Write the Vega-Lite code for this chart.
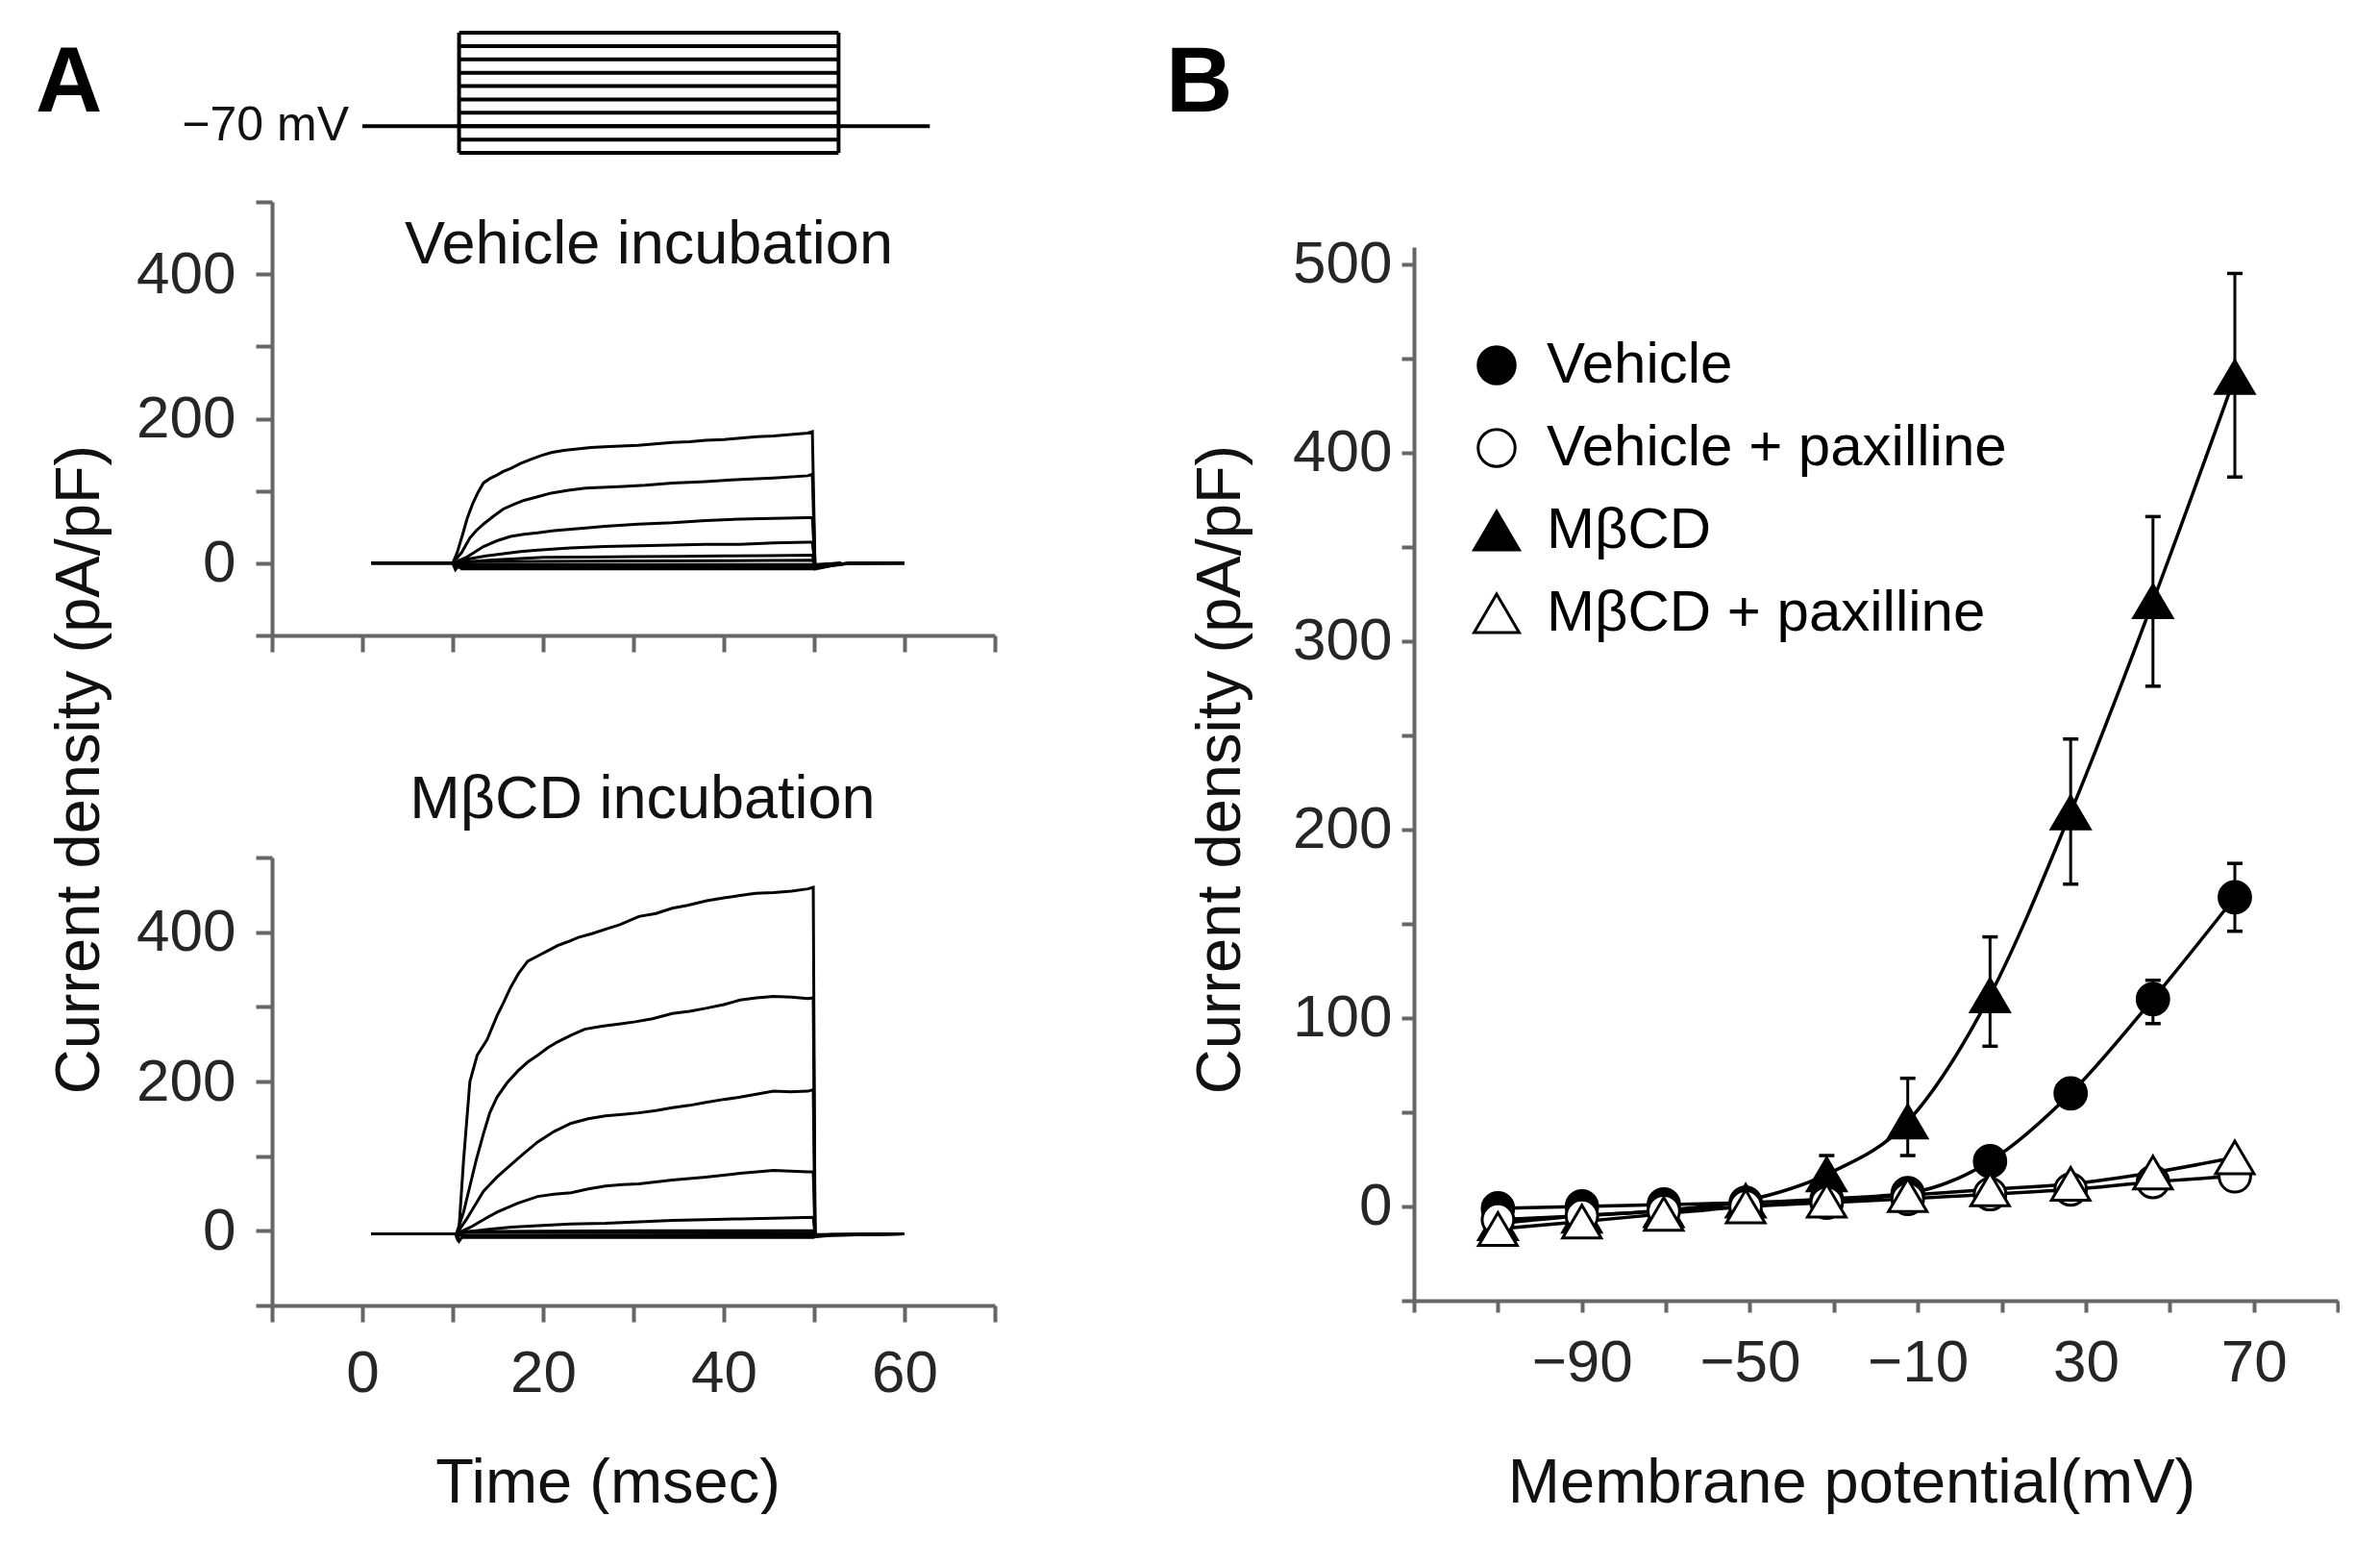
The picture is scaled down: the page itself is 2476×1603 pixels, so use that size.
{
  "$schema": "https://vega.github.io/schema/vega-lite/v6.json",
  "background": "white",
  "padding": {"left": 37, "top": 32, "right": 0, "bottom": 0},
  "autosize": {"type": "pad"},
  "config": {
    "view": {"stroke": null},
    "font": "Liberation Sans",
    "title": {"font": "Liberation Sans", "color": "black"},
    "axis": {
      "grid": false,
      "domainColor": "#666666",
      "domainWidth": 4,
      "tickColor": "#666666",
      "tickWidth": 4,
      "labelFont": "Liberation Sans",
      "labelFontSize": 62,
      "labelColor": "#262626",
      "labelOverlap": false,
      "labelBound": false,
      "labelFlush": false,
      "titleFont": "Liberation Sans",
      "titleFontSize": 65,
      "titleFontWeight": "normal",
      "titleColor": "#111111"
    }
  },
  "datasets": {
    "protocol_h": [
      {"segment": "holding", "label": "−70 mV", "t0": 0, "t1": 62.8, "v": -70},
      {"segment": "step", "t0": 10.7, "t1": 52.7, "v": 70},
      {"segment": "step", "t0": 10.7, "t1": 52.7, "v": 50},
      {"segment": "step", "t0": 10.7, "t1": 52.7, "v": 30},
      {"segment": "step", "t0": 10.7, "t1": 52.7, "v": 10},
      {"segment": "step", "t0": 10.7, "t1": 52.7, "v": -10},
      {"segment": "step", "t0": 10.7, "t1": 52.7, "v": -30},
      {"segment": "step", "t0": 10.7, "t1": 52.7, "v": -50},
      {"segment": "step", "t0": 10.7, "t1": 52.7, "v": -70},
      {"segment": "step", "t0": 10.7, "t1": 52.7, "v": -90},
      {"segment": "step", "t0": 10.7, "t1": 52.7, "v": -110}
    ],
    "protocol_v": [
      {"t": 10.7, "vlo": -110, "vhi": 70},
      {"t": 52.7, "vlo": -110, "vhi": 70}
    ],
    "vehicle_traces": [
      {"trace":"V1","t":1,"i":0},{"trace":"V1","t":10,"i":0},{"trace":"V1","t":10.5,"i":15},{"trace":"V1","t":11.1,"i":40},{"trace":"V1","t":11.6,"i":62},{"trace":"V1","t":12.2,"i":82},{"trace":"V1","t":12.8,"i":98},{"trace":"V1","t":13.4,"i":111},{"trace":"V1","t":14.1,"i":117},{"trace":"V1","t":14.9,"i":122},{"trace":"V1","t":15.6,"i":127},{"trace":"V1","t":16.4,"i":131},{"trace":"V1","t":17.5,"i":138},{"trace":"V1","t":18.7,"i":144},{"trace":"V1","t":19.8,"i":149},{"trace":"V1","t":20.9,"i":153},{"trace":"V1","t":22.3,"i":156},{"trace":"V1","t":23.8,"i":158},{"trace":"V1","t":25.3,"i":160},{"trace":"V1","t":26.8,"i":161},{"trace":"V1","t":28.6,"i":162},{"trace":"V1","t":30.5,"i":163},{"trace":"V1","t":32.4,"i":165},{"trace":"V1","t":34.3,"i":167},{"trace":"V1","t":36.2,"i":168},{"trace":"V1","t":38,"i":170},{"trace":"V1","t":40,"i":171},{"trace":"V1","t":41.8,"i":173},{"trace":"V1","t":43.7,"i":175},{"trace":"V1","t":45.5,"i":176},{"trace":"V1","t":47.4,"i":178},{"trace":"V1","t":49.3,"i":180},{"trace":"V1","t":49.8,"i":182},{"trace":"V1","t":50.1,"i":-8},{"trace":"V1","t":51,"i":-6},{"trace":"V1","t":52.5,"i":-2},{"trace":"V1","t":54,"i":0},{"trace":"V1","t":60,"i":0},
      {"trace":"V2","t":1,"i":0},{"trace":"V2","t":10,"i":0},{"trace":"V2","t":11,"i":15},{"trace":"V2","t":11.9,"i":35},{"trace":"V2","t":12.6,"i":45},{"trace":"V2","t":13.4,"i":54},{"trace":"V2","t":14.5,"i":65},{"trace":"V2","t":15.6,"i":75},{"trace":"V2","t":16.7,"i":81},{"trace":"V2","t":17.9,"i":87},{"trace":"V2","t":19.4,"i":92},{"trace":"V2","t":20.9,"i":97},{"trace":"V2","t":22.8,"i":101},{"trace":"V2","t":24.7,"i":104},{"trace":"V2","t":26.5,"i":105},{"trace":"V2","t":28.4,"i":106},{"trace":"V2","t":31.3,"i":108},{"trace":"V2","t":34.3,"i":111},{"trace":"V2","t":38,"i":113},{"trace":"V2","t":41.8,"i":116},{"trace":"V2","t":45.5,"i":118},{"trace":"V2","t":49.3,"i":121},{"trace":"V2","t":49.8,"i":123},{"trace":"V2","t":50.1,"i":-6},{"trace":"V2","t":51,"i":-5},{"trace":"V2","t":53,"i":-2},{"trace":"V2","t":54,"i":0},{"trace":"V2","t":60,"i":0},
      {"trace":"V3","t":1,"i":0},{"trace":"V3","t":10,"i":0},{"trace":"V3","t":11.5,"i":8},{"trace":"V3","t":12.4,"i":15},{"trace":"V3","t":13.4,"i":23},{"trace":"V3","t":14.9,"i":31},{"trace":"V3","t":16.4,"i":37},{"trace":"V3","t":17.9,"i":40},{"trace":"V3","t":19.4,"i":42},{"trace":"V3","t":21.2,"i":45},{"trace":"V3","t":23.1,"i":47},{"trace":"V3","t":25,"i":49},{"trace":"V3","t":26.8,"i":51},{"trace":"V3","t":30.5,"i":54},{"trace":"V3","t":34.3,"i":56},{"trace":"V3","t":38,"i":59},{"trace":"V3","t":41.8,"i":61},{"trace":"V3","t":45.5,"i":62},{"trace":"V3","t":49.3,"i":63},{"trace":"V3","t":49.8,"i":63},{"trace":"V3","t":50.1,"i":-5},{"trace":"V3","t":52,"i":-3},{"trace":"V3","t":54,"i":0},{"trace":"V3","t":60,"i":0},
      {"trace":"V4","t":1,"i":0},{"trace":"V4","t":10,"i":0},{"trace":"V4","t":11.9,"i":6},{"trace":"V4","t":13.7,"i":10},{"trace":"V4","t":15.6,"i":13},{"trace":"V4","t":17.5,"i":16},{"trace":"V4","t":19.4,"i":18},{"trace":"V4","t":23,"i":21},{"trace":"V4","t":26.8,"i":23},{"trace":"V4","t":30.5,"i":24},{"trace":"V4","t":34.3,"i":25},{"trace":"V4","t":38,"i":26},{"trace":"V4","t":41.8,"i":26},{"trace":"V4","t":45.5,"i":28},{"trace":"V4","t":49.3,"i":29},{"trace":"V4","t":49.8,"i":29},{"trace":"V4","t":50.1,"i":-4},{"trace":"V4","t":52,"i":-2},{"trace":"V4","t":54,"i":0},{"trace":"V4","t":60,"i":0},
      {"trace":"V5","t":1,"i":0},{"trace":"V5","t":10,"i":0},{"trace":"V5","t":12,"i":2},{"trace":"V5","t":14,"i":4},{"trace":"V5","t":17,"i":6},{"trace":"V5","t":20,"i":8},{"trace":"V5","t":25,"i":8.5},{"trace":"V5","t":30,"i":9},{"trace":"V5","t":35,"i":9.5},{"trace":"V5","t":40,"i":10},{"trace":"V5","t":45,"i":10.5},{"trace":"V5","t":49.8,"i":11},{"trace":"V5","t":50.1,"i":-3},{"trace":"V5","t":53,"i":-1},{"trace":"V5","t":60,"i":0},
      {"trace":"V6","t":10,"i":0},{"trace":"V6","t":10.3,"i":-9},{"trace":"V6","t":11,"i":2},{"trace":"V6","t":30,"i":3},{"trace":"V6","t":49.8,"i":4},{"trace":"V6","t":50.1,"i":-2},{"trace":"V6","t":53,"i":0},
      {"trace":"V7","t":10,"i":0},{"trace":"V7","t":11,"i":-2},{"trace":"V7","t":30,"i":-2},{"trace":"V7","t":49.8,"i":-2},{"trace":"V7","t":50.1,"i":-3},{"trace":"V7","t":53,"i":0},
      {"trace":"V8","t":10,"i":0},{"trace":"V8","t":11,"i":-5},{"trace":"V8","t":30,"i":-5},{"trace":"V8","t":49.8,"i":-5},{"trace":"V8","t":50.1,"i":-5},{"trace":"V8","t":53,"i":0},
      {"trace":"V9","t":10,"i":0},{"trace":"V9","t":11,"i":-8},{"trace":"V9","t":30,"i":-8},{"trace":"V9","t":49.8,"i":-8},{"trace":"V9","t":50.1,"i":-7},{"trace":"V9","t":53,"i":0}
    ],
    "mbcd_traces": [
      {"trace":"M1","t":1,"i":-4},{"trace":"M1","t":10.3,"i":-4},{"trace":"M1","t":10.6,"i":-14},{"trace":"M1","t":11.2,"i":95},{"trace":"M1","t":11.9,"i":200},{"trace":"M1","t":12.7,"i":235},{"trace":"M1","t":13.8,"i":256},{"trace":"M1","t":14.9,"i":288},{"trace":"M1","t":15.6,"i":305},{"trace":"M1","t":16.4,"i":326},{"trace":"M1","t":17.3,"i":345},{"trace":"M1","t":18.3,"i":361},{"trace":"M1","t":19.4,"i":368},{"trace":"M1","t":20.5,"i":375},{"trace":"M1","t":21.6,"i":382},{"trace":"M1","t":22.7,"i":387},{"trace":"M1","t":23.9,"i":393},{"trace":"M1","t":25.4,"i":398},{"trace":"M1","t":26.9,"i":404},{"trace":"M1","t":28.5,"i":410},{"trace":"M1","t":30.6,"i":421},{"trace":"M1","t":32.5,"i":425},{"trace":"M1","t":34.3,"i":432},{"trace":"M1","t":36,"i":436},{"trace":"M1","t":38.1,"i":442},{"trace":"M1","t":40,"i":446},{"trace":"M1","t":41.8,"i":449},{"trace":"M1","t":43.5,"i":452},{"trace":"M1","t":45.5,"i":453},{"trace":"M1","t":47.5,"i":455},{"trace":"M1","t":49.3,"i":458},{"trace":"M1","t":49.9,"i":460},{"trace":"M1","t":50.1,"i":-8},{"trace":"M1","t":52,"i":-6},{"trace":"M1","t":60,"i":-4},
      {"trace":"M2","t":1,"i":-4},{"trace":"M2","t":10.4,"i":-4},{"trace":"M2","t":11.2,"i":25},{"trace":"M2","t":11.9,"i":60},{"trace":"M2","t":12.6,"i":95},{"trace":"M2","t":13.4,"i":130},{"trace":"M2","t":14.1,"i":158},{"trace":"M2","t":14.9,"i":179},{"trace":"M2","t":16,"i":198},{"trace":"M2","t":17.2,"i":214},{"trace":"M2","t":18.3,"i":226},{"trace":"M2","t":19.4,"i":235},{"trace":"M2","t":20.5,"i":245},{"trace":"M2","t":21.6,"i":253},{"trace":"M2","t":23.1,"i":262},{"trace":"M2","t":24.6,"i":270},{"trace":"M2","t":26.5,"i":274},{"trace":"M2","t":28.4,"i":277},{"trace":"M2","t":30.2,"i":280},{"trace":"M2","t":32.1,"i":284},{"trace":"M2","t":34.3,"i":291},{"trace":"M2","t":36.2,"i":294},{"trace":"M2","t":38,"i":298},{"trace":"M2","t":40,"i":303},{"trace":"M2","t":41.8,"i":309},{"trace":"M2","t":43.6,"i":312},{"trace":"M2","t":45.5,"i":314},{"trace":"M2","t":47.5,"i":313},{"trace":"M2","t":49.3,"i":311},{"trace":"M2","t":49.9,"i":312},{"trace":"M2","t":50.1,"i":-7},{"trace":"M2","t":52,"i":-6},{"trace":"M2","t":60,"i":-4},
      {"trace":"M3","t":1,"i":-4},{"trace":"M3","t":10.4,"i":-4},{"trace":"M3","t":11.5,"i":15},{"trace":"M3","t":12.4,"i":33},{"trace":"M3","t":13.4,"i":53},{"trace":"M3","t":14.9,"i":72},{"trace":"M3","t":16.4,"i":88},{"trace":"M3","t":17.9,"i":104},{"trace":"M3","t":19.4,"i":119},{"trace":"M3","t":21.2,"i":133},{"trace":"M3","t":23.1,"i":144},{"trace":"M3","t":25,"i":150},{"trace":"M3","t":26.9,"i":154},{"trace":"M3","t":28.8,"i":156},{"trace":"M3","t":30.6,"i":158},{"trace":"M3","t":32.5,"i":161},{"trace":"M3","t":34.3,"i":165},{"trace":"M3","t":36.2,"i":168},{"trace":"M3","t":38,"i":172},{"trace":"M3","t":40,"i":176},{"trace":"M3","t":41.8,"i":179},{"trace":"M3","t":43.6,"i":183},{"trace":"M3","t":45.5,"i":187},{"trace":"M3","t":47.4,"i":186},{"trace":"M3","t":49.3,"i":187},{"trace":"M3","t":49.9,"i":189},{"trace":"M3","t":50.1,"i":-6},{"trace":"M3","t":52,"i":-5},{"trace":"M3","t":60,"i":-4},
      {"trace":"M4","t":1,"i":-4},{"trace":"M4","t":10.4,"i":-4},{"trace":"M4","t":12,"i":5},{"trace":"M4","t":13.4,"i":15},{"trace":"M4","t":14.9,"i":25},{"trace":"M4","t":17.2,"i":37},{"trace":"M4","t":19.4,"i":46},{"trace":"M4","t":21.2,"i":49},{"trace":"M4","t":23.1,"i":51},{"trace":"M4","t":25,"i":56},{"trace":"M4","t":26.9,"i":60},{"trace":"M4","t":28.8,"i":62},{"trace":"M4","t":30.6,"i":63},{"trace":"M4","t":34.3,"i":68},{"trace":"M4","t":38,"i":72},{"trace":"M4","t":41.8,"i":77},{"trace":"M4","t":45.5,"i":81},{"trace":"M4","t":47.4,"i":80},{"trace":"M4","t":49.3,"i":79},{"trace":"M4","t":49.9,"i":79},{"trace":"M4","t":50.1,"i":-6},{"trace":"M4","t":52,"i":-5},{"trace":"M4","t":60,"i":-4},
      {"trace":"M5","t":1,"i":-4},{"trace":"M5","t":10.4,"i":-4},{"trace":"M5","t":12,"i":-1},{"trace":"M5","t":14,"i":2},{"trace":"M5","t":16.5,"i":5},{"trace":"M5","t":19.4,"i":7},{"trace":"M5","t":23,"i":9},{"trace":"M5","t":26.9,"i":10},{"trace":"M5","t":30.6,"i":12},{"trace":"M5","t":34.3,"i":14},{"trace":"M5","t":38,"i":15},{"trace":"M5","t":41.8,"i":16},{"trace":"M5","t":45.5,"i":17},{"trace":"M5","t":49.9,"i":18},{"trace":"M5","t":50.1,"i":-5},{"trace":"M5","t":60,"i":-4},
      {"trace":"M6","t":10.4,"i":-4},{"trace":"M6","t":11,"i":-1},{"trace":"M6","t":30,"i":0},{"trace":"M6","t":49.9,"i":0},{"trace":"M6","t":50.1,"i":-4},
      {"trace":"M7","t":10.4,"i":-4},{"trace":"M7","t":11,"i":-6},{"trace":"M7","t":30,"i":-6},{"trace":"M7","t":49.9,"i":-6},{"trace":"M7","t":50.1,"i":-5},
      {"trace":"M8","t":10.4,"i":-4},{"trace":"M8","t":10.7,"i":-14},{"trace":"M8","t":11,"i":-9},{"trace":"M8","t":30,"i":-9},{"trace":"M8","t":49.9,"i":-9},{"trace":"M8","t":50.1,"i":-7},{"trace":"M8","t":52,"i":-5},
      {"trace":"M9","t":10.4,"i":-4},{"trace":"M9","t":11,"i":-2},{"trace":"M9","t":30,"i":-2.5},{"trace":"M9","t":49.9,"i":-3},{"trace":"M9","t":50.1,"i":-4}
    ],
    "iv": [
      {"series":"MβCD","v":-110,"i":-9},
      {"series":"MβCD","v":-90,"i":-5},
      {"series":"MβCD","v":-70.5,"i":-2},
      {"series":"MβCD","v":-51,"i":3},
      {"series":"MβCD","v":-31.7,"i":17,"lo":9,"hi":27},
      {"series":"MβCD","v":-12.4,"i":45,"lo":27,"hi":68},
      {"series":"MβCD","v":7.2,"i":112,"lo":85,"hi":143},
      {"series":"MβCD","v":26.4,"i":209,"lo":171,"hi":248},
      {"series":"MβCD","v":46,"i":321,"lo":276,"hi":366},
      {"series":"MβCD","v":65.5,"i":440,"lo":387,"hi":495},
      {"series":"Vehicle","v":-110,"i":-1},
      {"series":"Vehicle","v":-90,"i":0},
      {"series":"Vehicle","v":-70.5,"i":1},
      {"series":"Vehicle","v":-51,"i":2},
      {"series":"Vehicle","v":-31.7,"i":4},
      {"series":"Vehicle","v":-12.4,"i":7},
      {"series":"Vehicle","v":7.2,"i":24},
      {"series":"Vehicle","v":26.4,"i":60},
      {"series":"Vehicle","v":46,"i":110,"lo":97,"hi":120},
      {"series":"Vehicle","v":65.5,"i":164,"lo":146,"hi":182},
      {"series":"Vehicle + paxilline","v":-110,"i":-7},
      {"series":"Vehicle + paxilline","v":-90,"i":-5},
      {"series":"Vehicle + paxilline","v":-70.5,"i":-2.5},
      {"series":"Vehicle + paxilline","v":-51,"i":0},
      {"series":"Vehicle + paxilline","v":-31.7,"i":2},
      {"series":"Vehicle + paxilline","v":-12.4,"i":4},
      {"series":"Vehicle + paxilline","v":7.2,"i":6.5},
      {"series":"Vehicle + paxilline","v":26.4,"i":9},
      {"series":"Vehicle + paxilline","v":46,"i":13},
      {"series":"Vehicle + paxilline","v":65.5,"i":16},
      {"series":"MβCD + paxilline","v":-110,"i":-12},
      {"series":"MβCD + paxilline","v":-90,"i":-8},
      {"series":"MβCD + paxilline","v":-70.5,"i":-4},
      {"series":"MβCD + paxilline","v":-51,"i":0},
      {"series":"MβCD + paxilline","v":-31.7,"i":3},
      {"series":"MβCD + paxilline","v":-12.4,"i":6},
      {"series":"MβCD + paxilline","v":7.2,"i":9},
      {"series":"MβCD + paxilline","v":26.4,"i":12},
      {"series":"MβCD + paxilline","v":46,"i":18},
      {"series":"MβCD + paxilline","v":65.5,"i":26}
    ]
  },
  "spacing": 176,
  "resolve": {"scale": {"shape": "independent", "fill": "independent", "stroke": "independent"}, "legend": {"shape": "independent", "fill": "independent", "stroke": "independent"}},
  "hconcat": [
    {
      "spacing": 231,
      "bounds": "flush",
      "vconcat": [
        {
          "width": 752,
          "height": 451,
          "title": {"text": "A", "anchor": "start", "frame": "group", "dx": -246, "offset": -180, "baseline": "alphabetic", "fontSize": 96, "fontWeight": "bold"},
          "layer": [
            {
              "layer": [
                {
                  "data": {"name": "protocol_h"},
                  "mark": {"type": "rule", "color": "black", "strokeWidth": 4},
                  "encoding": {
                    "x": {"field": "t0", "type": "quantitative", "scale": {"domain": [-10, 70], "nice": false, "zero": false}, "axis": {"values": [-10, 0, 10, 20, 30, 40, 50, 60, 70], "labels": false, "title": null, "tickSize": 17}},
                    "x2": {"field": "t1"},
                    "y": {"field": "v", "type": "quantitative", "scale": {"domain": [-832.8, -183.4], "nice": false, "zero": false}, "axis": null}
                  }
                },
                {
                  "data": {"name": "protocol_v"},
                  "mark": {"type": "rule", "color": "black", "strokeWidth": 4},
                  "encoding": {
                    "x": {"field": "t", "type": "quantitative", "axis": {"values": [-10, 0, 10, 20, 30, 40, 50, 60, 70], "labels": false, "title": null, "tickSize": 17}},
                    "y": {"field": "vlo", "type": "quantitative"},
                    "y2": {"field": "vhi"}
                  }
                },
                {
                  "data": {"name": "protocol_h"},
                  "transform": [{"filter": "datum.segment == 'holding'"}],
                  "mark": {"type": "text", "align": "right", "baseline": "middle", "dx": -14, "fontSize": 50, "color": "#111111", "font": "Liberation Sans"},
                  "encoding": {
                    "x": {"field": "t0", "type": "quantitative", "axis": {"values": [-10, 0, 10, 20, 30, 40, 50, 60, 70], "labels": false, "title": null, "tickSize": 17}},
                    "y": {"field": "v", "type": "quantitative"},
                    "text": {"field": "label"}
                  }
                }
              ]
            },
            {
              "layer": [
                {
                  "data": {"name": "vehicle_traces"},
                  "mark": {"type": "line", "color": "black", "strokeWidth": 3},
                  "encoding": {
                    "x": {"field": "t", "type": "quantitative", "axis": {"values": [-10, 0, 10, 20, 30, 40, 50, 60, 70], "labels": false, "title": null, "tickSize": 17}},
                    "y": {"field": "i", "type": "quantitative", "scale": {"domain": [-100, 500], "nice": false, "zero": false}, "axis": {"orient": "left", "values": [-100, 0, 100, 200, 300, 400, 500], "labelExpr": "datum.value % 200 == 0 ? datum.label : ''", "title": "Current density (pA/pF)", "titleX": -181, "titleY": 590, "titleAngle": -90, "titleAlign": "center", "titleBaseline": "alphabetic", "tickSize": 17, "labelPadding": 21}},
                    "detail": {"field": "trace"}
                  }
                },
                {
                  "data": {"values": [{"label": "Vehicle incubation"}]},
                  "mark": {"type": "text", "align": "center", "baseline": "alphabetic", "fontSize": 63, "color": "#111111", "font": "Liberation Sans"},
                  "encoding": {
                    "x": {"datum": 31.7, "type": "quantitative", "axis": {"values": [-10, 0, 10, 20, 30, 40, 50, 60, 70], "labels": false, "title": null, "tickSize": 17}},
                    "y": {"datum": 415, "type": "quantitative"},
                    "text": {"field": "label"}
                  }
                }
              ]
            }
          ],
          "resolve": {"scale": {"y": "independent"}}
        },
        {
          "width": 752,
          "height": 466,
          "layer": [
            {
              "data": {"name": "mbcd_traces"},
              "mark": {"type": "line", "color": "black", "strokeWidth": 3},
              "encoding": {
                "x": {"field": "t", "type": "quantitative", "scale": {"domain": [-10, 70], "nice": false, "zero": false}, "axis": {"values": [-10, 0, 10, 20, 30, 40, 50, 60, 70], "labelExpr": "datum.value % 20 == 0 ? datum.label : ''", "title": "Time (msec)", "titleX": 349, "titleY": 204, "titleAlign": "center", "titleBaseline": "alphabetic", "tickSize": 17, "labelPadding": 23}},
                "y": {"field": "i", "type": "quantitative", "scale": {"domain": [-100, 500], "nice": false, "zero": false}, "axis": {"values": [-100, 0, 100, 200, 300, 400, 500], "labelExpr": "datum.value % 200 == 0 ? datum.label : ''", "title": null, "tickSize": 17, "labelPadding": 21}},
                "detail": {"field": "trace"}
              }
            },
            {
              "data": {"values": [{"label": "MβCD incubation"}]},
              "mark": {"type": "text", "align": "center", "baseline": "alphabetic", "fontSize": 63, "color": "#111111", "font": "Liberation Sans"},
              "encoding": {
                "x": {"datum": 31, "type": "quantitative"},
                "y": {"datum": 552.8, "type": "quantitative"},
                "text": {"field": "label"}
              }
            }
          ]
        }
      ]
    },
    {
      "spacing": 46,
      "bounds": "flush",
      "resolve": {"scale": {"shape": "independent", "fill": "independent", "stroke": "independent"}, "legend": {"shape": "independent", "fill": "independent", "stroke": "independent"}},
      "vconcat": [
        {
          "width": 961,
          "height": 1,
          "title": {"text": "B", "anchor": "start", "frame": "group", "dx": -258, "offset": -2, "baseline": "alphabetic", "fontSize": 96, "fontWeight": "bold"},
          "data": {"values": []},
          "mark": "point"
        },
        {
          "width": 961,
          "height": 1096,
          "data": {"name": "iv"},
          "encoding": {
            "x": {"field": "v", "type": "quantitative", "scale": {"domain": [-130, 90], "nice": false, "zero": false}, "axis": {"values": [-130, -110, -90, -70, -50, -30, -10, 10, 30, 50, 70, 90], "labelExpr": "(datum.value == -90 || datum.value == -50 || datum.value == -10 || datum.value == 30 || datum.value == 70) ? datum.label : ''", "title": "Membrane potential(mV)", "titleX": 455, "titleY": 209, "titleAlign": "center", "titleBaseline": "alphabetic", "tickSize": 12, "labelPadding": 22}},
            "y": {"field": "i", "type": "quantitative", "scale": {"domain": [-50, 509], "nice": false, "zero": false}, "axis": {"values": [-50, 0, 50, 100, 150, 200, 250, 300, 350, 400, 450, 500], "labelExpr": "datum.value % 100 == 0 ? datum.label : ''", "title": "Current density (pA/pF)", "titleX": -182, "titleY": 543, "titleAngle": -90, "titleAlign": "center", "titleBaseline": "alphabetic", "tickSize": 13, "labelPadding": 10}}
          },
          "layer": [
            {
              "mark": {"type": "line", "color": "black", "strokeWidth": 3.5, "interpolate": "monotone"},
              "encoding": {"detail": {"field": "series"}}
            },
            {
              "transform": [{"filter": "isValid(datum.lo)"}],
              "mark": {"type": "rule", "color": "black", "strokeWidth": 3},
              "encoding": {"y": {"field": "lo", "type": "quantitative"}, "y2": {"field": "hi"}}
            },
            {
              "transform": [{"filter": "isValid(datum.lo)"}],
              "mark": {"type": "tick", "orient": "horizontal", "size": 16, "thickness": 3.5, "color": "black", "opacity": 1},
              "encoding": {"y": {"field": "lo", "type": "quantitative"}}
            },
            {
              "transform": [{"filter": "isValid(datum.hi)"}],
              "mark": {"type": "tick", "orient": "horizontal", "size": 16, "thickness": 3.5, "color": "black", "opacity": 1},
              "encoding": {"y": {"field": "hi", "type": "quantitative"}}
            },
            {
              "mark": {"type": "point", "filled": true, "strokeWidth": 3, "opacity": 1, "size": 1600},
              "encoding": {
                "shape": {
                  "field": "series",
                  "type": "nominal",
                  "scale": {"domain": ["Vehicle", "Vehicle + paxilline", "MβCD", "MβCD + paxilline"], "range": ["M0.82,0A0.82,0.82,0,1,1,-0.82,0A0.82,0.82,0,1,1,0.82,0Z", "M0.82,0A0.82,0.82,0,1,1,-0.82,0A0.82,0.82,0,1,1,0.82,0Z", "M0,-0.85L1,0.85L-1,0.85Z", "M0,-0.85L1,0.85L-1,0.85Z"]},
                  "legend": {
                    "orient": "none",
                    "legendX": 56,
                    "legendY": 93,
                    "title": null,
                    "padding": 0,
                    "symbolSize": 2200,
                    "symbolStrokeWidth": 3,
                    "symbolOpacity": 1,
                    "labelFont": "Liberation Sans",
                    "labelFontSize": 60,
                    "labelColor": "black",
                    "labelLimit": 1000,
                    "labelOffset": 22,
                    "rowPadding": 26
                  }
                },
                "fill": {
                  "field": "series",
                  "type": "nominal",
                  "scale": {"domain": ["Vehicle", "Vehicle + paxilline", "MβCD", "MβCD + paxilline"], "range": ["black", "white", "black", "white"]}
                },
                "stroke": {
                  "field": "series",
                  "type": "nominal",
                  "scale": {"domain": ["Vehicle", "Vehicle + paxilline", "MβCD", "MβCD + paxilline"], "range": ["black", "black", "black", "black"]}
                }
              }
            }
          ]
        }
      ]
    }
  ]
}
